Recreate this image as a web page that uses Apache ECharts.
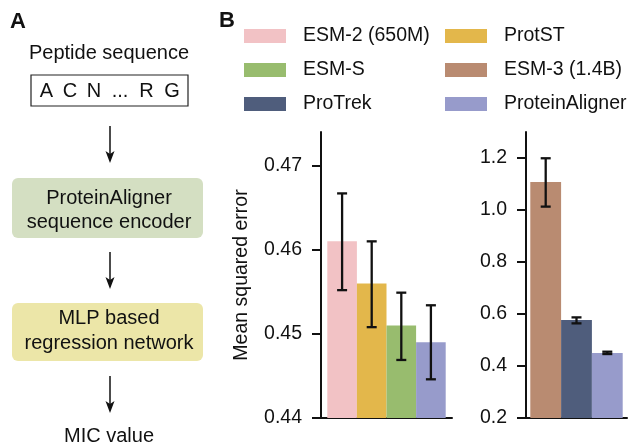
<!DOCTYPE html>
<html>
<head>
<meta charset="utf-8">
<script src="https://cdn.jsdelivr.net/npm/echarts@6/dist/echarts.min.js"></script>
<style>
  html, body { margin: 0; padding: 0; background: #fff; }
  #main { width: 632px; height: 443px; }
</style>
</head>
<body>
<div id="main"></div>
<script>
// 左图：MSE（0.44 起）
const leftModels = ['ESM-2 (650M)', 'ProtST', 'ESM-S', 'ProteinAligner']
const leftMean = [0.4610, 0.4560, 0.4510, 0.4490]
const leftLow = [0.4552, 0.4508, 0.4469, 0.4446]
const leftHigh = [0.4667, 0.4610, 0.4549, 0.4534]
const leftTicks = [0.44, 0.45, 0.46, 0.47]

// 右图
const rightModels = ['ESM-3 (1.4B)', 'ProTrek', 'ProteinAligner']
const rightMean = [1.108, 0.577, 0.450]
const rightLow = [1.013, 0.564, 0.446]
const rightHigh = [1.199, 0.587, 0.455]
const rightTicks = [0.2, 0.4, 0.6, 0.8, 1.0, 1.2]

const colors = {
  'ESM-2 (650M)': '#f2c2c5',
  'ProtST': '#e3b74b',
  'ESM-S': '#98bc6e',
  'ESM-3 (1.4B)': '#b98b71',
  'ProTrek': '#4f5d7c',
  'ProteinAligner': '#979bcb'
}

const FONT = 'Liberation Sans, Arial, sans-serif'
const INK = '#111'

function yAxisFor (gridIndex, min, max, ticks, digits, withName) {
  return {
    type: 'value',
    gridIndex: gridIndex,
    min: min,
    max: max,
    name: withName ? 'Mean squared error' : '',
    nameLocation: 'middle',
    nameGap: 69,
    nameTextStyle: { fontFamily: FONT, fontSize: 19.5, color: INK },
    splitLine: { show: false },
    axisLine: { show: true, lineStyle: { color: INK, width: 2 } },
    axisTick: { show: true, length: 9, customValues: ticks, lineStyle: { color: INK, width: 2 } },
    axisLabel: {
      customValues: ticks,
      margin: 19,
      fontFamily: FONT,
      fontSize: 19.5,
      color: INK,
      formatter: v => v.toFixed(digits)
    }
  }
}

function xAxisFor (gridIndex) {
  return {
    type: 'category',
    gridIndex: gridIndex,
    data: ['MSE'],
    axisLine: { show: true, lineStyle: { color: INK, width: 2 } },
    axisTick: { show: false },
    axisLabel: { show: false }
  }
}

function barSeries (models, means, idx, barW) {
  return models.map((m, i) => ({
    name: m,
    type: 'bar',
    xAxisIndex: idx,
    yAxisIndex: idx,
    barWidth: barW,
    barGap: '0%',
    itemStyle: { color: colors[m] },
    data: [means[i]]
  }))
}

// 误差线
function errSeries (low, high, idx, barW) {
  const n = low.length
  return {
    type: 'custom',
    xAxisIndex: idx,
    yAxisIndex: idx,
    z: 10,
    data: low.map((l, i) => [0, l, high[i], i]),
    renderItem: function (params, api) {
      const k = api.value(3)
      const top = api.coord([0, api.value(2)])
      const bot = api.coord([0, api.value(1)])
      const x = top[0] + (k - (n - 1) / 2) * barW
      const cap = 5
      const style = { stroke: INK, lineWidth: 2.3 }
      return {
        type: 'group',
        children: [
          { type: 'line', shape: { x1: x, y1: top[1], x2: x, y2: bot[1] }, style: style },
          { type: 'line', shape: { x1: x - cap, y1: top[1], x2: x + cap, y2: top[1] }, style: style },
          { type: 'line', shape: { x1: x - cap, y1: bot[1], x2: x + cap, y2: bot[1] }, style: style }
        ]
      }
    }
  }
}

// 面板 A
function txt (x, y, s, size, bold, align) {
  return {
    type: 'text',
    x: x,
    y: y,
    style: {
      text: s,
      font: (bold ? 'bold ' : '') + size + 'px ' + FONT,
      fill: INK,
      align: align || 'center',
      textAlign: align || 'center',
      verticalAlign: 'middle',
      textVerticalAlign: 'middle'
    }
  }
}

function arrow (x, y1, y2) {
  return [
    { type: 'line', shape: { x1: x, y1: y1, x2: x, y2: y2 - 8 }, style: { stroke: INK, lineWidth: 1.5 } },
    { type: 'polygon', shape: { points: [[x - 4.5, y2 - 12], [x, y2 - 9], [x + 4.5, y2 - 12], [x, y2]] }, style: { fill: INK } }
  ]
}

const seqTokens = ['A', 'C', 'N', '...', 'R', 'G']
const seqX = [46.5, 70, 94, 120, 146.5, 172]

const panelA = [
  txt(10, 22, 'A', 22, true, 'left'),
  txt(219, 21, 'B', 22, true, 'left'),
  txt(109, 53, 'Peptide sequence', 20),
  { type: 'rect', shape: { x: 31, y: 75, width: 157, height: 31 }, style: { fill: 'none', stroke: '#222', lineWidth: 1.2 } },
  ...seqTokens.map((t, i) => txt(seqX[i], 91, t, 20)),
  ...arrow(110, 126, 163),
  { type: 'rect', shape: { x: 12, y: 178, width: 191, height: 60, r: 6 }, style: { fill: '#d4dfc2' } },
  txt(109, 198, 'ProteinAligner', 20),
  txt(109, 222, 'sequence encoder', 20),
  ...arrow(110, 252, 289),
  { type: 'rect', shape: { x: 12, y: 303, width: 191, height: 58, r: 6 }, style: { fill: '#ece6a8' } },
  txt(109, 318, 'MLP based', 20),
  txt(109, 343, 'regression network', 20),
  ...arrow(110, 376, 413),
  txt(109, 436, 'MIC value', 20)
]

const legendBase = {
  orient: 'vertical',
  top: 26,
  padding: 0,
  itemWidth: 42,
  itemHeight: 14,
  itemGap: 14,
  icon: 'rect',
  selectedMode: false,
  textStyle: { fontFamily: FONT, fontSize: 19.5, color: INK, lineHeight: 16, padding: [0, 0, 0, 12] }
}

const option = {
  animation: false,
  backgroundColor: '#fff',
  legend: [
    Object.assign({}, legendBase, { left: 244, data: ['ESM-2 (650M)', 'ESM-S', 'ProTrek'] }),
    Object.assign({}, legendBase, { left: 445, data: ['ProtST', 'ESM-3 (1.4B)', 'ProteinAligner'] })
  ],
  grid: [
    { left: 321, top: 132, width: 131, height: 286 },
    { left: 526, top: 132, width: 101, height: 286 }
  ],
  xAxis: [xAxisFor(0), xAxisFor(1)],
  yAxis: [
    yAxisFor(0, 0.44, 0.474, leftTicks, 2, true),
    yAxisFor(1, 0.2, 1.3, rightTicks, 1, false)
  ],
  series: [
    ...barSeries(leftModels, leftMean, 0, 29.6),
    ...barSeries(rightModels, rightMean, 1, 30.8),
    errSeries(leftLow, leftHigh, 0, 29.6),
    errSeries(rightLow, rightHigh, 1, 30.8)
  ],
  graphic: panelA
}

const myChart = echarts.init(document.getElementById('main'))
myChart.setOption(option)
</script>
</body>
</html>
